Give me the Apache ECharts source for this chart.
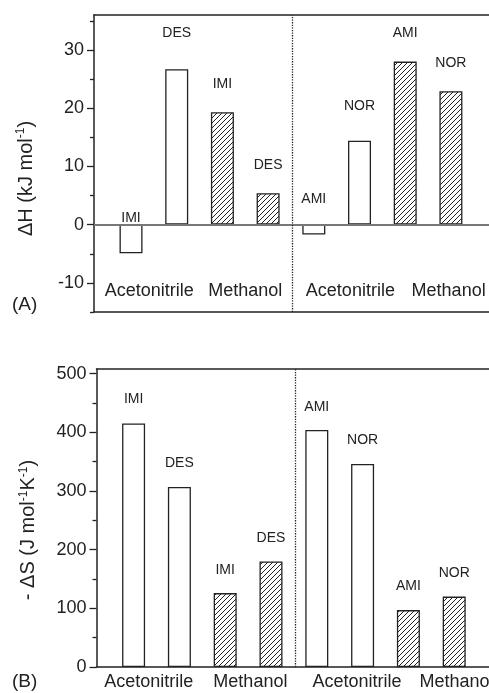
<!DOCTYPE html>
<html>
<head>
<meta charset="utf-8">
<script src="https://cdn.jsdelivr.net/npm/echarts@6/dist/echarts.min.js"></script>
<style>
html,body{margin:0;padding:0;background:#fff;}
#chart{width:489px;height:693px;}
</style>
</head>
<body>
<div id="chart"></div>
<script>
// ---------- data ----------
const drugs = ['IMI', 'DES', 'IMI', 'DES', 'AMI', 'NOR', 'AMI', 'NOR'];
const solvents = ['Acetonitrile', 'Acetonitrile', 'Methanol', 'Methanol', 'Acetonitrile', 'Acetonitrile', 'Methanol', 'Methanol'];
const deltaH = [-4.9, 26.7, 19.3, 5.4, -1.7, 14.4, 28.0, 22.9];          // kJ mol-1
const minusDeltaS = [415, 307, 126, 180, 404, 346, 97, 120];              // J mol-1 K-1
const groupLabels = ['Acetonitrile', 'Methanol', 'Acetonitrile', 'Methanol'];
const yTicksA = [-10, 0, 10, 20, 30];
const yMinorA = [-15, -5, 5, 15, 25, 35];
const yTicksB = [0, 100, 200, 300, 400, 500];
const yMinorB = [50, 150, 250, 350, 450];

// ---------- style / layout ----------
const FONT = '"Liberation Sans", Arial, sans-serif';
const INK = '#222';
const labelLiftA = [0, 29, 21, 21, 19, 28, 21, 21];
const labelLiftB = [17, 17, 16, 16, 16, 17, 17, 16];
const groupPosA = [1.4, 3.5, 5.8, 7.95];
const groupPosB = [1.33, 3.55, 5.88, 8.05];

function hatch() {
  const s = 5;
  const c = document.createElement('canvas');
  c.width = s; c.height = s;
  const g = c.getContext('2d');
  g.fillStyle = '#fff'; g.fillRect(0, 0, s, s);
  g.strokeStyle = '#222'; g.lineWidth = 1;
  g.beginPath();
  g.moveTo(-1, s + 1); g.lineTo(s + 1, -1);
  g.moveTo(-1, 1); g.lineTo(1, -1);
  g.moveTo(s - 1, s + 1); g.lineTo(s + 1, s - 1);
  g.stroke();
  return c;
}
const hatchPattern = { image: hatch(), repeat: 'repeat' };

function barData(values, lifts) {
  return values.map((v, i) => ({
    value: [i + 1, v],
    itemStyle: { color: solvents[i] === 'Methanol' ? hatchPattern : '#fff' },
    label: { distance: lifts[i], formatter: drugs[i] }
  }));
}

function nearestLabel(pos) {
  return function (v) {
    let best = 0;
    pos.forEach((p, i) => { if (Math.abs(p - v) < Math.abs(pos[best] - v)) best = i; });
    return groupLabels[best];
  };
}

const axisLine = { show: true, onZero: false, lineStyle: { color: INK, width: 1.5 } };
const sepX = 4.52;
const gA = { left: 94, top: 15, width: 395, height: 297, outerBoundsMode: 'none', containLabel: false };
const gB = { left: 96.5, top: 369, width: 392.5, height: 298, outerBoundsMode: 'none', containLabel: false };
const xMin = 0.19;
const xMaxA = xMin + gA.width / 45.7;
const xMaxB = xMin + gB.width / 45.8;

function yAxes(gridIndex, min, max, ticks, minor, name, padRight, nameGap) {
  return [
    {
      type: 'value', gridIndex, min, max, position: 'left',
      axisLine,
      axisTick: { show: true, customValues: ticks, length: 7, lineStyle: { color: INK, width: 1.3 } },
      axisLabel: { customValues: ticks, fontSize: 18, fontFamily: FONT, color: INK, margin: 10 },
      splitLine: { show: false },
      name, nameLocation: 'middle', nameGap, nameRotate: 90,
      nameTextStyle: {
        fontSize: 20, fontFamily: FONT, color: INK, padding: [0, padRight, 0, 0],
        rich: {
          t: { fontSize: 20, fontFamily: FONT, color: INK },
          sup: { fontSize: 12, fontFamily: FONT, color: INK, padding: [0, 0, 10, 0] }
        }
      }
    },
    {
      type: 'value', gridIndex, min, max, position: 'left',
      axisLine: { show: false },
      axisTick: { show: true, customValues: minor, length: 4, lineStyle: { color: INK, width: 1.3 } },
      axisLabel: { show: false },
      splitLine: { show: false }
    }
  ];
}

function topBorder(gridIndex, max) {
  return {
    type: 'value', gridIndex, min: xMin, max, position: 'top',
    axisLine: { show: true, onZero: false, lineStyle: { color: INK, width: 1.5 } },
    axisTick: { show: false }, axisLabel: { show: false }, splitLine: { show: false }
  };
}

const option = {
  animation: false,
  backgroundColor: '#fff',
  grid: [gA, gB],
  xAxis: [
    {
      type: 'value', gridIndex: 0, min: xMin, max: xMaxA, position: 'bottom',
      axisLine, axisTick: { show: false }, splitLine: { show: false },
      axisLabel: { inside: true, customValues: groupPosA, formatter: nearestLabel(groupPosA), fontSize: 18, fontFamily: FONT, color: INK, margin: 12 }
    },
    {
      type: 'value', gridIndex: 1, min: xMin, max: xMaxB, position: 'bottom',
      axisLine, axisTick: { show: false }, splitLine: { show: false },
      axisLabel: { customValues: groupPosB, formatter: nearestLabel(groupPosB), fontSize: 18, fontFamily: FONT, color: INK, margin: 6 }
    },
    topBorder(0, xMaxA),
    topBorder(1, xMaxB)
  ],
  yAxis: [
    ...yAxes(0, -15, 36, yTicksA, yMinorA, '{t|ΔH (kJ mol}{sup|-1}{t|)}', 30, 57),
    ...yAxes(1, 0, 508, yTicksB, yMinorB, '{t|- ΔS (J mol}{sup|-1}{t|K}{sup|-1}{t|)}', 24, 57)
  ],
  series: [
    {
      type: 'bar', xAxisIndex: 0, yAxisIndex: 0, barWidth: 23,
      data: barData(deltaH, labelLiftA),
      itemStyle: { borderColor: INK, borderWidth: 1.3 },
      label: { show: true, position: 'top', fontSize: 14, fontFamily: FONT, color: INK },
      markLine: {
        silent: true, symbol: 'none', label: { show: false },
        data: [
          { yAxis: 0, lineStyle: { type: 'solid', color: '#777', width: 2 } },
          { xAxis: sepX, lineStyle: { type: 'dotted', color: INK, width: 1.3 } }
        ]
      }
    },
    {
      type: 'bar', xAxisIndex: 1, yAxisIndex: 2, barWidth: 23,
      data: barData(minusDeltaS, labelLiftB),
      itemStyle: { borderColor: INK, borderWidth: 1.3 },
      label: { show: true, position: 'top', fontSize: 14, fontFamily: FONT, color: INK },
      markLine: {
        silent: true, symbol: 'none', label: { show: false },
        data: [
          { xAxis: sepX, lineStyle: { type: 'dotted', color: INK, width: 1.3 } }
        ]
      }
    }
  ],
  graphic: [
    { type: 'text', left: 12, top: 295, style: { text: '(A)', fontSize: 19, fontFamily: FONT, fill: INK } },
    { type: 'text', left: 12, top: 672, style: { text: '(B)', fontSize: 19, fontFamily: FONT, fill: INK } }
  ]
};

const chart = echarts.init(document.getElementById('chart'), null, { renderer: 'canvas' });
chart.setOption(option);
</script>
</body>
</html>
